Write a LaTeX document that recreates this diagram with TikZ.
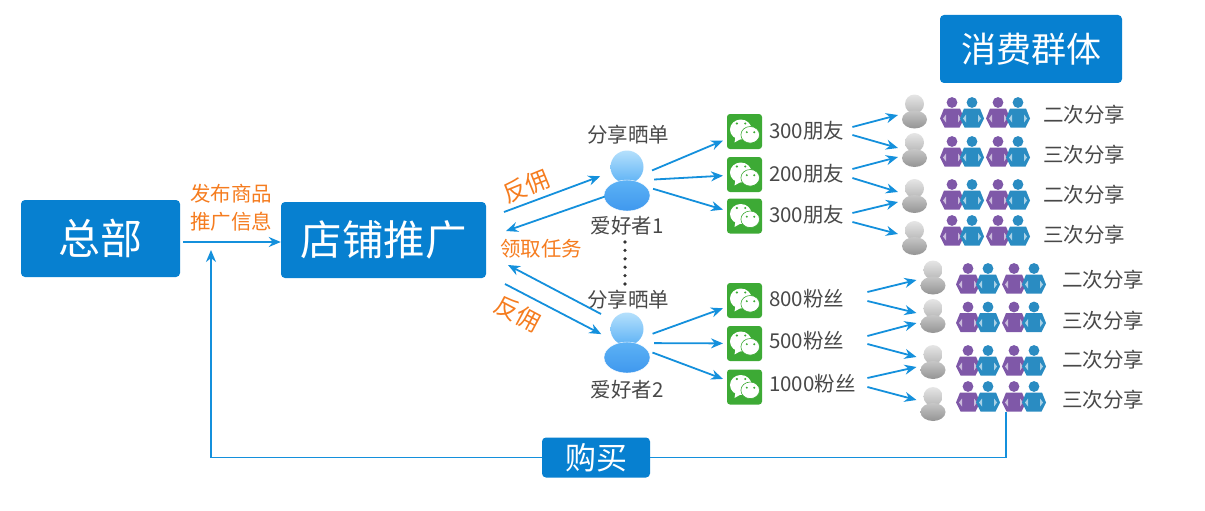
\documentclass[tikz,border=0pt]{standalone}
\usepackage{fontspec}
\setmainfont{Noto Sans CJK SC}
\usetikzlibrary{arrows.meta}
\definecolor{boxblue}{HTML}{0780D0}
\definecolor{linkblue}{HTML}{1490DC}
\definecolor{noteorange}{HTML}{F57C1F}
\definecolor{wordgray}{HTML}{484848}
\definecolor{wxgreen}{HTML}{3DAA35}
\definecolor{crowdpurple}{HTML}{7F58A8}
\definecolor{crowdblue}{HTML}{2A8CC2}
\definecolor{fanlight}{HTML}{B5E0FC}
\definecolor{fanmid}{HTML}{5DB2F5}
\definecolor{fandeep}{HTML}{3F98EE}
\tikzset{
  bluebox/.style={fill=boxblue,text=white,rounded corners=4pt,inner sep=0pt},
  note/.style={text=noteorange,inner sep=0pt,font=\fontsize{20.5}{22}\selectfont},
  word/.style={text=wordgray,inner sep=0pt,font=\fontsize{20.5}{22}\selectfont},
  countup/.style={word,anchor=west,text width=83pt},
  countlow/.style={word,anchor=west,text width=98pt},
  fanspot/.style={circle,minimum size=54pt,inner sep=0pt},
  wxspot/.style={minimum size=35pt,inner sep=0pt,outer sep=4pt},
  grayspot/.style={minimum width=25pt,minimum height=34pt,inner sep=0pt,outer sep=4pt},
  link/.style={draw=linkblue,line width=1.8pt,-{Stealth[length=12pt,width=10pt]}},
  plainlink/.style={draw=linkblue,line width=1.8pt},
  fanpic/.pic={
    \shade[top color=fanlight,bottom color=fanmid] (0,-14) circle (16.5pt);
    \shade[top color=fanmid,bottom color=fandeep,draw=white] (0,14.5) ellipse (23pt and 15.5pt);
  },
  wxpic/.pic={
    \fill[wxgreen,rounded corners=3pt] (-17.5,-17.5) rectangle (17.5,17.5);
    \fill[white] (-3.7,-2) ellipse (10.8pt and 10pt);
    \fill[white] (-9,5) -- (-10,11) -- (-3,7) -- cycle;
    \filldraw[fill=white,draw=wxgreen,line width=.6pt] (5.7,3.3) ellipse (9.3pt and 8.3pt);
    \fill[wxgreen] (-7.7,-8) circle (1.2pt) (.7,-8) circle (1.2pt) (2.3,.7) circle (1.1pt) (9.7,.7) circle (1.1pt);
  },
  graypic/.pic={
    \shade[top color=black!10,bottom color=black!28] (0,-7.5) circle (9.5pt);
    \shade[top color=black!22,bottom color=black!42] (0,8) ellipse (12.5pt and 9pt);
  },
  manpic/.pic={
    \fill[#1] (0,-10) circle (5.4pt);
    \fill[#1] (-8,-4) -- (8,-4) -- (12,6) -- (7.5,15) -- (-7.5,15) -- (-12,6) -- cycle;
    \fill[white,opacity=.6] (-9,6) -- (-6,2) -- (-6,10) -- cycle (9,6) -- (6,2) -- (6,10) -- cycle;
  },
  crowdpic/.pic={
    \pic at (0,0) {manpic=crowdpurple};
    \pic at (20,0) {manpic=crowdblue};
    \pic at (46,0) {manpic=crowdpurple};
    \pic at (66,0) {manpic=crowdblue};
  }
}
\begin{document}
\begin{tikzpicture}[x=1pt,y=-1pt]
  \useasboundingbox (0,0) rectangle (1205,511);
  % boxes
  \node[bluebox,minimum width=159pt,minimum height=77pt,font=\fontsize{42}{46}\selectfont] (hq) at (100.5,238.5) {总部};
  \node[bluebox,minimum width=205pt,minimum height=76pt,font=\fontsize{41.5}{44}\selectfont] (shop) at (383.5,240) {店铺推广};
  \node[bluebox,minimum width=182pt,minimum height=68pt,font=\fontsize{35}{38}\selectfont] (group) at (1031,49) {消费群体};
  \node[bluebox,minimum width=108pt,minimum height=40pt,font=\fontsize{31}{34}\selectfont] (buy) at (596,457.5) {购买};
  % orange notes
  \node[note] (post1) at (231,194) {发布商品};
  \node[note] (post2) at (231,222) {推广信息};
  \node[note] (task) at (541,249) {领取任务};
  \node[note,font=\fontsize{24}{26}\selectfont,rotate=22] (back1) at (526,186) {反佣};
  \node[note,font=\fontsize{24}{26}\selectfont,rotate=-28] (back2) at (518,314) {反佣};
  % fans
  \node[fanspot] (fan1) at (627,181) {};
  \node[fanspot] (fan2) at (627,343) {};
  \foreach \spot in {fan1,fan2} \pic at (\spot) {fanpic};
  \node[word] (share1) at (628,135) {分享晒单};
  \node[word] (name1) at (627,226) {爱好者1};
  \node[word] (share2) at (628,300) {分享晒单};
  \node[word] (name2) at (627,390) {爱好者2};
  % wechat
  \node[wxspot] (wx1) at (744.5,131.5) {};
  \node[wxspot] (wx2) at (744.5,174.5) {};
  \node[wxspot] (wx3) at (744.5,216) {};
  \node[wxspot] (wx4) at (744.5,300.5) {};
  \node[wxspot] (wx5) at (744.5,343.5) {};
  \node[wxspot] (wx6) at (744.5,387) {};
  \foreach \spot in {wx1,wx2,wx3,wx4,wx5,wx6} \pic at (\spot) {wxpic};
  \node[countup] (num1) at (769,131) {300朋友};
  \node[countup] (num2) at (769,174) {200朋友};
  \node[countup] (num3) at (769,215) {300朋友};
  \node[countlow] (num4) at (769,299) {800粉丝};
  \node[countlow] (num5) at (769,341) {500粉丝};
  \node[countlow] (num6) at (769,384) {1000粉丝};
  % gray heads
  \node[grayspot] (up1) at (914.5,111.5) {};
  \node[grayspot] (up2) at (914.5,150) {};
  \node[grayspot] (up3) at (914.5,196) {};
  \node[grayspot] (up4) at (914.5,238) {};
  \node[grayspot] (low1) at (933,277.5) {};
  \node[grayspot] (low2) at (933,316) {};
  \node[grayspot] (low3) at (933,362) {};
  \node[grayspot] (low4) at (933,404) {};
  \foreach \spot in {up1,up2,up3,up4,low1,low2,low3,low4} \pic at (\spot) {graypic};
  % crowds
  \foreach \rowy in {112.5,151.5,194.5,230.5} \pic at (952,\rowy) {crowdpic};
  \foreach \rowy in {278.5,317,360.5,396.5} \pic at (968,\rowy) {crowdpic};
  \node[word] (say1) at (1084,115) {二次分享};
  \node[word] (say2) at (1084,155) {三次分享};
  \node[word] (say3) at (1084,195) {二次分享};
  \node[word] (say4) at (1084,235) {三次分享};
  \node[word] (say5) at (1103,280) {二次分享};
  \node[word] (say6) at (1103,321) {三次分享};
  \node[word] (say7) at (1103,360) {二次分享};
  \node[word] (say8) at (1103,400) {三次分享};
  % free ends
  \coordinate (shopout) at (504,212);
  \coordinate (shopin) at (506,231);
  \coordinate (shopin2) at (508,265);
  \coordinate (shopout2) at (505,284);
  \coordinate (fanout2) at (601,314);
  \coordinate (hqin) at (211,250);
  \coordinate (crowdfoot) at (1006,412);
  \coordinate (dottop) at (625,242);
  \coordinate (dotend) at (625,284);
  % connectors
  \begin{scope}[every path/.style={link}]
    \draw ([yshift=-3.5pt]hq.east) ++(3,0) -- ([yshift=-2pt]shop.west);
    \draw (shopout) -- (fan1.170);
    \draw (fan1.215) -- (shopin);
    \draw (fanout2) -- (shopin2);
    \draw (shopout2) -- (fan2.161);
    \draw (fan1) -- (wx1);
    \draw (fan1) -- (wx2);
    \draw (fan1) -- (wx3);
    \draw (fan2) -- (wx4);
    \draw (fan2) -- (wx5);
    \draw (fan2) -- (wx6);
    \draw ([yshift=4pt]num1.east) -- ([yshift=-3.5pt]up1.west);
    \draw ([yshift=-4pt]num1.east) -- ([yshift=2pt]up2.west);
    \draw ([yshift=5pt]num2.east) -- ([yshift=-7pt]up2.west);
    \draw ([yshift=-4pt]num2.east) -- ([yshift=4pt]up3.west);
    \draw ([yshift=2pt]num3.east) -- ([yshift=-6pt]up3.west);
    \draw ([yshift=-7pt]num3.east) -- ([yshift=4pt]up4.west);
    \draw ([yshift=7pt]num4.east) -- ([yshift=-2.5pt]low1.west);
    \draw ([yshift=-2pt]num4.east) -- ([yshift=3pt]low2.west);
    \draw ([yshift=5pt]num5.east) -- ([yshift=-7pt]low2.west);
    \draw ([yshift=-3pt]num5.east) -- ([yshift=5pt]low3.west);
    \draw ([yshift=6pt]num6.east) -- ([yshift=-5pt]low3.west);
    \draw ([yshift=-3pt]num6.east) -- ([yshift=4pt]low4.west);
    \draw (buy.west) -| (hqin);
  \end{scope}
  \draw[plainlink] (crowdfoot) |- (buy.east);
  \draw[line width=3.6pt,line cap=round,dash pattern=on 0pt off 8.4pt,black!80] (dottop) -- (dotend);
\end{tikzpicture}
\end{document}
